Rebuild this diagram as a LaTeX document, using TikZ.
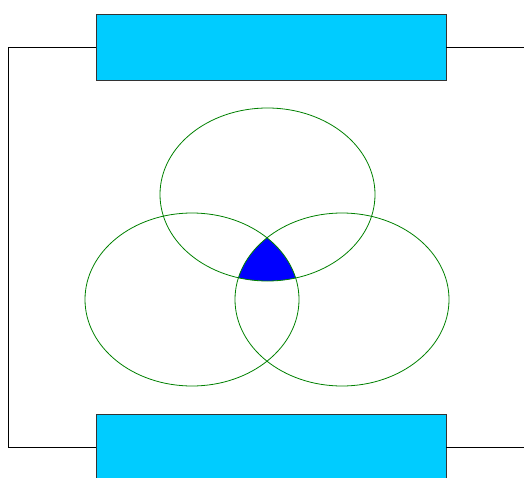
\documentclass[tikz,border=0pt]{standalone}
\begin{document}
\begin{tikzpicture}[x=1pt,y=-1pt,
  bar/.style={draw=black!80,fill={rgb,255:red,0;green,204;blue,255},minimum width=350pt,minimum height=66pt,inner sep=0pt,line width=0.8pt},
  wire/.style={draw=black,line width=0.8pt},
  ring/.style={draw={rgb,255:red,0;green,128;blue,0},line width=0.8pt}]
\useasboundingbox (0,0) rectangle (524,478);
\clip (0,0) rectangle (524,478);
\node[bar] (top) at (271,47) {};
\node[bar] (bot) at (271,447) {};
\coordinate (tl) at (8.5,47);
\coordinate (bl) at (8.5,447);
\coordinate (tr) at (524,47);
\coordinate (br) at (524,447);
\draw[wire] (top.west) -- (tl) -- (bl) -- (bot.west);
\draw[wire] (top.east) -- (tr);
\draw[wire] (bot.east) -- (br);
\begin{scope}
\clip (267.5,194.5) ellipse [x radius=107.5, y radius=86.5];
\clip (192,299.5) ellipse [x radius=107, y radius=86.5];
\fill[blue] (342,299.5) ellipse [x radius=107, y radius=86.5];
\end{scope}
\draw[ring] (267.5,194.5) ellipse [x radius=107.5, y radius=86.5];
\draw[ring] (192,299.5) ellipse [x radius=107, y radius=86.5];
\draw[ring] (342,299.5) ellipse [x radius=107, y radius=86.5];
\end{tikzpicture}
\end{document}
